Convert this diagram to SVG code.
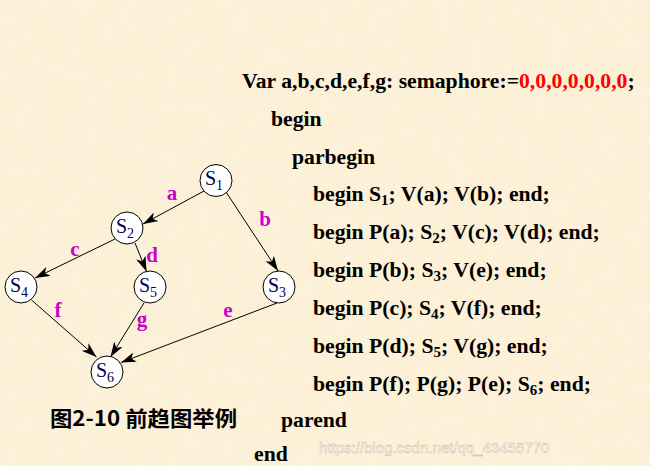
<svg xmlns="http://www.w3.org/2000/svg" width="650" height="466" viewBox="0 0 650 466">
<defs>
<filter id="tex" x="0" y="0" width="100%" height="100%">
<feTurbulence type="fractalNoise" baseFrequency="0.06" numOctaves="2" seed="3" result="n"/>
<feColorMatrix in="n" type="matrix" values="0 0 0 0 0.99  0 0 0 0 0.93  0 0 0 0 0.78  0 0 0 0.35 0"/>
</filter>
<marker id="arr" viewBox="0 0 15 10" refX="15" refY="5" markerWidth="15" markerHeight="10" markerUnits="userSpaceOnUse" orient="auto">
<path d="M0,0 L15,5 L0,10 L4,5 z" fill="#000"/>
</marker>
<style>
.node circle{fill:#fff;stroke:#000;stroke-width:1}
.node text{font-family:"Liberation Serif","Times New Roman",serif;font-size:20px;fill:#000050;text-anchor:middle}
.sub{font-size:14px}
.edge{stroke:#000;stroke-width:1;fill:none;marker-end:url(#arr)}
.lbl{font-family:"Liberation Serif","Times New Roman",serif;font-weight:bold;font-size:21px;fill:#CC00CC;text-anchor:middle}
.code{font-family:"Liberation Serif","Times New Roman",serif;font-weight:bold;font-size:21.7px;fill:#000}
.code .sub{font-size:15px}
.red{fill:#FF0000}
.cap{font-family:"Noto Sans CJK SC","Noto Sans",sans-serif;font-weight:bold;font-size:21px;fill:#000}
.wm{font-family:"Liberation Sans",Arial,sans-serif;font-size:15px;fill:#fff;fill-opacity:0.7;stroke:#bdb5a5;stroke-width:0.4}
</style>
</defs>
<rect width="650" height="466" fill="#FCF0D5"/>
<rect width="650" height="466" filter="url(#tex)"/>
<g id="connectors">
<line class="edge" x1="204" y1="191" x2="143" y2="224"/>
<line class="edge" x1="226" y1="192" x2="278" y2="271"/>
<line class="edge" x1="115" y1="239" x2="35" y2="278"/>
<line class="edge" x1="135" y1="243" x2="146.5" y2="271.5"/>
<line class="edge" x1="31.5" y1="300" x2="96.5" y2="357"/>
<line class="edge" x1="144" y1="303" x2="110.5" y2="357"/>
<line class="edge" x1="277" y1="303" x2="121" y2="362.5"/>
</g>
<g id="labels">
<text class="lbl" x="172" y="200">a</text>
<text class="lbl" x="265" y="226">b</text>
<text class="lbl" x="75" y="256">c</text>
<text class="lbl" x="152" y="262">d</text>
<text class="lbl" x="228" y="317">e</text>
<text class="lbl" x="58" y="317">f</text>
<text class="lbl" x="142" y="326">g</text>
</g>
<g id="S1" class="node"><circle cx="216" cy="180.5" r="16"/><text x="214" y="185">S<tspan class="sub" dy="5">1</tspan></text></g>
<g id="S2" class="node"><circle cx="127" cy="228" r="16"/><text x="125" y="232.5">S<tspan class="sub" dy="5">2</tspan></text></g>
<g id="S4" class="node"><circle cx="21" cy="287" r="16"/><text x="19" y="291.5">S<tspan class="sub" dy="5">4</tspan></text></g>
<g id="S5" class="node"><circle cx="150" cy="287" r="16"/><text x="148" y="291.5">S<tspan class="sub" dy="5">5</tspan></text></g>
<g id="S3" class="node"><circle cx="279" cy="287" r="16"/><text x="277" y="291.5">S<tspan class="sub" dy="5">3</tspan></text></g>
<g id="S6" class="node"><circle cx="107" cy="372" r="16"/><text x="105" y="376.5">S<tspan class="sub" dy="5">6</tspan></text></g>
<g id="code">
<text class="code" x="242" y="88">Var a,b,c,d,e,f,g: semaphore:=<tspan class="red">0,0,0,0,0,0,0</tspan>;</text>
<text class="code" x="271" y="125.5">begin</text>
<text class="code" x="292" y="163.5">parbegin</text>
<text class="code" x="313" y="201">begin S<tspan class="sub" dy="4">1</tspan><tspan dy="-4">; V(a); V(b); end;</tspan></text>
<text class="code" x="313" y="239">begin P(a); S<tspan class="sub" dy="4">2</tspan><tspan dy="-4">; V(c); V(d); end;</tspan></text>
<text class="code" x="313" y="277">begin P(b); S<tspan class="sub" dy="4">3</tspan><tspan dy="-4">; V(e); end;</tspan></text>
<text class="code" x="313" y="314.5">begin P(c); S<tspan class="sub" dy="4">4</tspan><tspan dy="-4">; V(f); end;</tspan></text>
<text class="code" x="313" y="353">begin P(d); S<tspan class="sub" dy="4">5</tspan><tspan dy="-4">; V(g); end;</tspan></text>
<text class="code" x="313" y="391">begin P(f); P(g); P(e); S<tspan class="sub" dy="4">6</tspan><tspan dy="-4">; end;</tspan></text>
<text class="code" x="281" y="426.5">parend</text>
<text class="code" x="254" y="461">end</text>
</g>
<text class="cap" x="50" y="426" textLength="187" lengthAdjust="spacingAndGlyphs">图2-10 前趋图举例</text>
<text class="wm" x="319" y="453">https://blog.csdn.net/qq_43456770</text>
</svg>
